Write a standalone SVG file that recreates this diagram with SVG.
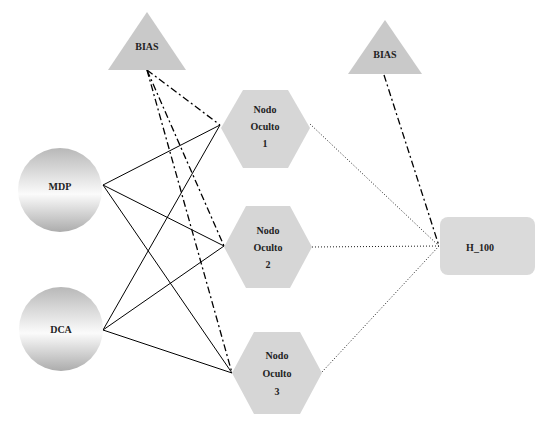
<svg xmlns="http://www.w3.org/2000/svg" width="548" height="425" viewBox="0 0 548 425">
<defs>
<linearGradient id="sph" x1="0" y1="0" x2="0" y2="1">
<stop offset="0" stop-color="#b8b8b8"/>
<stop offset="0.55" stop-color="#fbfbfb"/>
<stop offset="1" stop-color="#acacac"/>
</linearGradient>
</defs>
<style>
.lbl{font-family:"Liberation Serif",serif;font-weight:bold;font-size:10px;fill:#222;text-anchor:middle}
.tri{fill:#c9c9c9}
.hex{fill:#d6d6d6}
.sph{fill:url(#sph)}
.box{fill:#dadada}
.solid{stroke:#000;stroke-width:1;fill:none}
.dashdot{stroke:#000;stroke-width:1.3;fill:none;stroke-dasharray:7 3 2 3}
.dot{stroke:#000;stroke-width:0.9;fill:none;stroke-dasharray:1 2}
</style>
<rect width="548" height="425" fill="#fff"/>
<g id="connectors">
<line class="solid" x1="103" y1="185" x2="220" y2="125"/>
<line class="solid" x1="103" y1="185" x2="224" y2="246"/>
<line class="solid" x1="103" y1="185" x2="232" y2="373"/>
<line class="solid" x1="103" y1="330" x2="220" y2="125"/>
<line class="solid" x1="103" y1="330" x2="224" y2="246"/>
<line class="solid" x1="103" y1="330" x2="232" y2="373"/>
<line class="dashdot" x1="147" y1="70" x2="220" y2="125"/>
<line class="dashdot" x1="147" y1="70" x2="224" y2="246"/>
<line class="dashdot" x1="147" y1="70" x2="232" y2="373"/>
<line class="dashdot" x1="384" y1="75" x2="439" y2="246"/>
<line class="dot" x1="310" y1="124" x2="439" y2="246"/>
<line class="dot" x1="312" y1="247" x2="439" y2="246"/>
<line class="dot" x1="322" y1="372" x2="439" y2="246"/>
</g>
<g id="bias1">
<polygon class="tri" points="147,12 186,70 108,70"/>
<text class="lbl" x="147" y="50">BIAS</text>
</g>
<g id="bias2">
<polygon class="tri" points="385,20 422,74 348,74"/>
<text class="lbl" x="385" y="58">BIAS</text>
</g>
<g id="mdp">
<circle class="sph" cx="60" cy="190" r="42"/>
<text class="lbl" x="60" y="190">MDP</text>
</g>
<g id="dca">
<circle class="sph" cx="61" cy="329" r="42"/>
<text class="lbl" x="61" y="333">DCA</text>
</g>
<g id="oculto1">
<polygon class="hex" points="221,128 243,90 288,90 310,128 288,168 243,168"/>
<text class="lbl" x="265" y="113">Nodo</text>
<text class="lbl" x="265" y="130">Oculto</text>
<text class="lbl" x="265" y="147">1</text>
</g>
<g id="oculto2">
<polygon class="hex" points="224,247 246,206 290,206 312,247 290,288 246,288"/>
<text class="lbl" x="268" y="234">Nodo</text>
<text class="lbl" x="268" y="251">Oculto</text>
<text class="lbl" x="268" y="268">2</text>
</g>
<g id="oculto3">
<polygon class="hex" points="232,373 254,332 300,332 322,373 300,414 254,414"/>
<text class="lbl" x="277" y="359">Nodo</text>
<text class="lbl" x="277" y="377">Oculto</text>
<text class="lbl" x="277" y="395">3</text>
</g>
<g id="h100">
<rect class="box" x="440" y="217" width="95" height="58" rx="8"/>
<text class="lbl" x="480" y="251">H_100</text>
</g>
</svg>
